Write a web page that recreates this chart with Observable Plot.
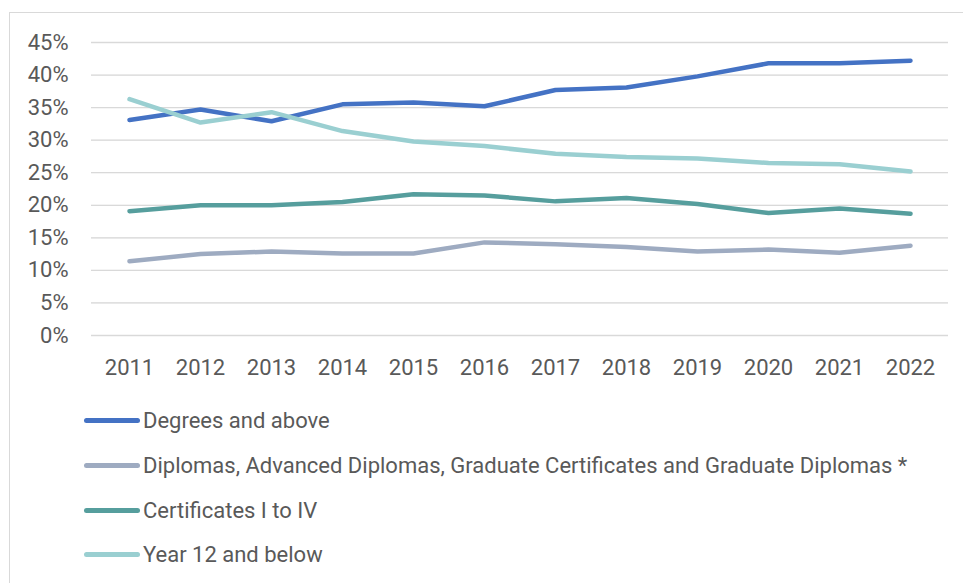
<!DOCTYPE html>
<html>
<head>
<meta charset="utf-8">
<script src="https://cdn.jsdelivr.net/npm/d3@7"></script>
<script src="https://cdn.jsdelivr.net/npm/@observablehq/plot@0.6"></script>
<style>
  html, body { margin: 0; padding: 0; background: #fff; width: 963px; height: 583px; overflow: hidden; }
  #frame { position: absolute; left: 9px; top: 12px; width: 1100px; height: 700px; border: 1px solid #d9d9d9; box-sizing: border-box; }
  #chart { position: absolute; left: 0; top: 0; }
  #legend { position: absolute; left: 84px; top: 0; font-family: Roboto, sans-serif; font-size: 22px; color: #595959; }
  .item { position: absolute; left: 0; display: flex; align-items: center; white-space: nowrap; }
  .swatch { width: 56px; height: 5px; border-radius: 3px; margin-right: 3px; }
</style>
</head>
<body>
<div id="frame"></div>
<div id="chart"></div>
<div id="legend"></div>
<script>
const years = ["2011","2012","2013","2014","2015","2016","2017","2018","2019","2020","2021","2022"];
const seriesNames = [
  "Degrees and above",
  "Diplomas, Advanced Diplomas, Graduate Certificates and Graduate Diplomas *",
  "Certificates I to IV",
  "Year 12 and below"
];
const degrees      = [33.1, 34.7, 32.9, 35.5, 35.8, 35.2, 37.7, 38.1, 39.8, 41.8, 41.8, 42.2];
const diplomas     = [11.4, 12.5, 12.9, 12.6, 12.6, 14.3, 14.0, 13.6, 12.9, 13.2, 12.7, 13.8];
const certificates = [19.1, 20.0, 20.0, 20.5, 21.7, 21.5, 20.6, 21.1, 20.2, 18.8, 19.5, 18.7];
const year12       = [36.3, 32.7, 34.3, 31.4, 29.8, 29.1, 27.9, 27.4, 27.2, 26.5, 26.3, 25.2];
const yTicks = [0, 5, 10, 15, 20, 25, 30, 35, 40, 45];
const colors = ["#4472C4", "#9EABC1", "#569E9D", "#9ACFD1"];

const allValues = [degrees, diplomas, certificates, year12];
const data = [];
seriesNames.forEach((s, si) => {
  years.forEach((y, i) => data.push({series: s, year: y, value: allValues[si][i]}));
});

const chart = Plot.plot({
  width: 963,
  height: 390,
  marginLeft: 91,
  marginRight: 15,
  marginTop: 42,
  marginBottom: 55,
  style: {fontFamily: "Roboto, sans-serif", fontSize: "22px", color: "#595959", background: "transparent", overflow: "visible"},
  x: {type: "point", domain: years, padding: 0.5, label: null, tickSize: 0, tickPadding: 24},
  y: {domain: [0, 45], ticks: yTicks, tickFormat: d => d + "%", label: null, tickSize: 0, tickPadding: 23, grid: true},
  color: {domain: seriesNames, range: colors},
  marks: [
    Plot.gridY(yTicks, {stroke: "#d9d9d9", strokeOpacity: 1, strokeWidth: 1.3}),
    Plot.line(data, {x: "year", y: "value", z: "series", stroke: "series", strokeWidth: 4.5, strokeLinecap: "round", strokeLinejoin: "round"})
  ]
});
document.getElementById("chart").appendChild(chart);

const legend = document.getElementById("legend");
const legendTops = [420.7, 465, 510, 554];
seriesNames.forEach((s, i) => {
  const item = document.createElement("div");
  item.className = "item";
  item.style.top = (legendTops[i] - 14) + "px";
  item.style.height = "28px";
  const sw = document.createElement("div");
  sw.className = "swatch";
  sw.style.background = colors[i];
  const tx = document.createElement("span");
  tx.textContent = s;
  item.appendChild(sw);
  item.appendChild(tx);
  legend.appendChild(item);
});
</script>
</body>
</html>
